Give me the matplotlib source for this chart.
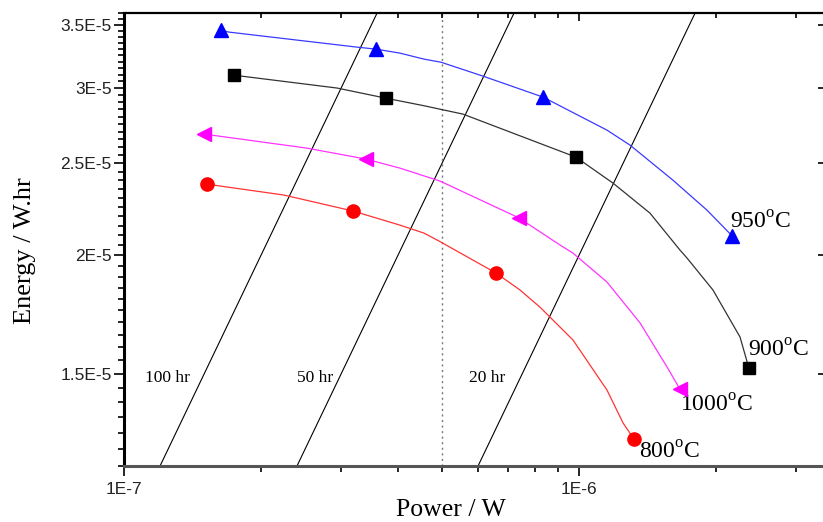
import matplotlib
matplotlib.use("Agg")
import matplotlib.pyplot as plt
import numpy as np
from matplotlib.ticker import FixedLocator, FixedFormatter, NullFormatter

plt.rcParams["font.family"] = "Liberation Sans"
plt.rcParams["mathtext.fontset"] = "custom"
plt.rcParams["mathtext.rm"] = "Liberation Serif"

# curves (power in W, energy in W.hr)
p_950 = [1.634e-7, 1.701e-7, 3.252e-7, 3.579e-7, 4.044e-7, 4.564e-7, 4.974e-7,
         6.152e-7, 8.334e-7, 1.152e-6, 1.295e-6, 1.609e-6, 1.911e-6, 2.170e-6]
e_950 = [3.453e-5, 3.437e-5, 3.314e-5, 3.298e-5, 3.266e-5, 3.219e-5, 3.195e-5,
         3.089e-5, 2.936e-5, 2.710e-5, 2.613e-5, 2.400e-5, 2.232e-5, 2.097e-5]
p_900 = [1.745e-7, 2.939e-7, 3.765e-7, 4.564e-7, 5.561e-7, 9.849e-7, 1.188e-6,
         1.432e-6, 1.667e-6, 1.728e-6, 1.970e-6, 2.259e-6, 2.363e-6]
e_900 = [3.096e-5, 3.001e-5, 2.928e-5, 2.875e-5, 2.817e-5, 2.538e-5, 2.383e-5,
         2.216e-5, 2.026e-5, 1.987e-5, 1.839e-5, 1.641e-5, 1.522e-5]
p_1000 = [1.499e-7, 2.525e-7, 3.404e-7, 4.044e-7, 4.949e-7, 7.382e-7, 9.082e-7,
          9.700e-7, 1.152e-6, 1.362e-6, 1.561e-6, 1.667e-6]
e_1000 = [2.684e-5, 2.594e-5, 2.526e-5, 2.471e-5, 2.395e-5, 2.190e-5, 2.051e-5,
          2.011e-5, 1.875e-5, 1.698e-5, 1.526e-5, 1.446e-5]
p_800 = [1.522e-7, 2.247e-7, 3.187e-7, 4.044e-7, 4.564e-7, 4.949e-7, 6.573e-7,
         7.419e-7, 8.209e-7, 9.700e-7, 1.152e-6, 1.250e-6, 1.321e-6]
e_800 = [2.377e-5, 2.315e-5, 2.227e-5, 2.152e-5, 2.111e-5, 2.068e-5, 1.916e-5,
         1.839e-5, 1.764e-5, 1.629e-5, 1.443e-5, 1.332e-5, 1.281e-5]

# measured points (markers)
mp_950 = [1.634e-7, 3.579e-7, 8.334e-7, 2.170e-6]
me_950 = [3.453e-5, 3.298e-5, 2.936e-5, 2.097e-5]
mp_900 = [1.745e-7, 3.765e-7, 9.849e-7, 2.363e-6]
me_900 = [3.096e-5, 2.928e-5, 2.538e-5, 1.522e-5]
mp_1000 = [1.499e-7, 3.404e-7, 7.382e-7, 1.667e-6]
me_1000 = [2.684e-5, 2.526e-5, 2.190e-5, 1.446e-5]
mp_800 = [1.522e-7, 3.187e-7, 6.573e-7, 1.321e-6]
me_800 = [2.377e-5, 2.227e-5, 1.916e-5, 1.281e-5]

# constant discharge time lines E = P * t
hours = [100, 50, 20]
hour_labels = ["100 hr", "50 hr", "20 hr"]
hour_label_p = [1.112e-7, 2.400e-7, 5.731e-7]
hour_label_e = 1.471e-5
ref_power = 5e-7

y_major = [1.5e-5, 2e-5, 2.5e-5, 3e-5, 3.5e-5]
y_labels = ["1.5E-5", "2E-5", "2.5E-5", "3E-5", "3.5E-5"]
x_major = [1e-7, 1e-6]
x_labels = ["1E-7", "1E-6"]
x_minor = [2e-7, 3e-7, 4e-7, 5e-7, 6e-7, 7e-7, 8e-7, 9e-7, 2e-6, 3e-6]
y_minor = np.arange(1.2e-5, 3.6e-5 + 1e-10, 0.05e-5)

fig = plt.figure(figsize=(8.23, 5.22), dpi=100)
rect = [124 / 823, 1 - 466 / 522, (826.5 - 124) / 823, (466 - 13) / 522]
ax = fig.add_axes(rect)
ax2 = fig.add_axes(rect, sharex=ax, sharey=ax, facecolor="none", label="overlay")

ax.set_xscale("log")
ax.set_yscale("log")
ax.set_xlim(1e-7, 3.5e-6)
ax.set_ylim(1.2e-5, 3.6e-5)

# time lines
p_line = np.array(ax.get_xlim())
for t in hours:
    ax.plot(p_line, p_line * t, color="black", lw=0.8)
for lab, px in zip(hour_labels, hour_label_p):
    ax.text(px, hour_label_e, lab, family="Liberation Serif", fontsize=12.5,
            ha="left", va="baseline")
ax.axvline(ref_power, color="#777777", ls=(0, (1.5, 2.5)), lw=1)

series = [
    (p_950, e_950, mp_950, me_950, "#0000ff", "#3a3aff", "^", 10.5, "950$^{\\mathrm{o}}$C", (-2, 7)),
    (p_900, e_900, mp_900, me_900, "#000000", "#333333", "s", 8.5, "900$^{\\mathrm{o}}$C", (-1, 11)),
    (p_1000, e_1000, mp_1000, me_1000, "#ff00ff", "#ff33ff", "<", 10, "1000$^{\\mathrm{o}}$C", (0, -23)),
    (p_800, e_800, mp_800, me_800, "#ff0000", "#ff3333", "o", 9.5, "800$^{\\mathrm{o}}$C", (5, -20)),
]
for cp, ce, mp, me, mc, lc, mk, ms, lab, off in series:
    ax.plot(cp, ce, color=lc, lw=0.9, zorder=3, solid_joinstyle="round")
    ax.plot(mp, me, ls="none", marker=mk, color=mc, ms=ms, mec=mc, zorder=4)
    ax.annotate(lab, (mp[-1], me[-1]), xytext=off, textcoords="offset pixels",
                family="Liberation Serif", fontsize=17, ha="left", va="baseline")

# ticks
ax.xaxis.set_major_locator(FixedLocator(x_major))
ax.xaxis.set_major_formatter(FixedFormatter(x_labels))
ax.xaxis.set_minor_locator(FixedLocator(x_minor))
ax.xaxis.set_minor_formatter(NullFormatter())
ax.yaxis.set_major_locator(FixedLocator(y_major))
ax.yaxis.set_major_formatter(FixedFormatter(y_labels))
ax.yaxis.set_minor_locator(FixedLocator(y_minor))
ax.yaxis.set_minor_formatter(NullFormatter())

ax.tick_params(which="both", direction="out", top=False, right=False,
               width=1.2, labelsize=12.5, labelcolor="#222222")
ax.tick_params(which="major", length=7.5)
ax.tick_params(which="minor", length=4.5)
ax.tick_params(axis="x", which="major", pad=4)
ax.tick_params(axis="y", which="major", pad=1.5)

# top and right ticks point inward
ax2.tick_params(which="both", direction="in", top=True, right=True, left=False,
                bottom=False, labelleft=False, labelbottom=False, width=1.2)
ax2.tick_params(which="major", length=5.5)
ax2.tick_params(which="minor", length=3.8, right=False)
for s in ax2.spines.values():
    s.set_visible(False)

ax.spines["left"].set_linewidth(2.2)
ax.spines["bottom"].set_linewidth(2.2)
ax.spines["bottom"].set_color("#555555")
ax.spines["top"].set_linewidth(1.6)
ax.spines["right"].set_linewidth(1.6)

fig.text(451 / 823, 1 - 516 / 522, "Power / W", family="Liberation Serif",
         fontsize=18.5, ha="center", va="baseline")
fig.text(25 / 823, 1 - 251 / 522, "Energy / W.hr", family="Liberation Serif",
         fontsize=19, ha="center", va="center", rotation=90)

fig.savefig("out.png", dpi=100)
